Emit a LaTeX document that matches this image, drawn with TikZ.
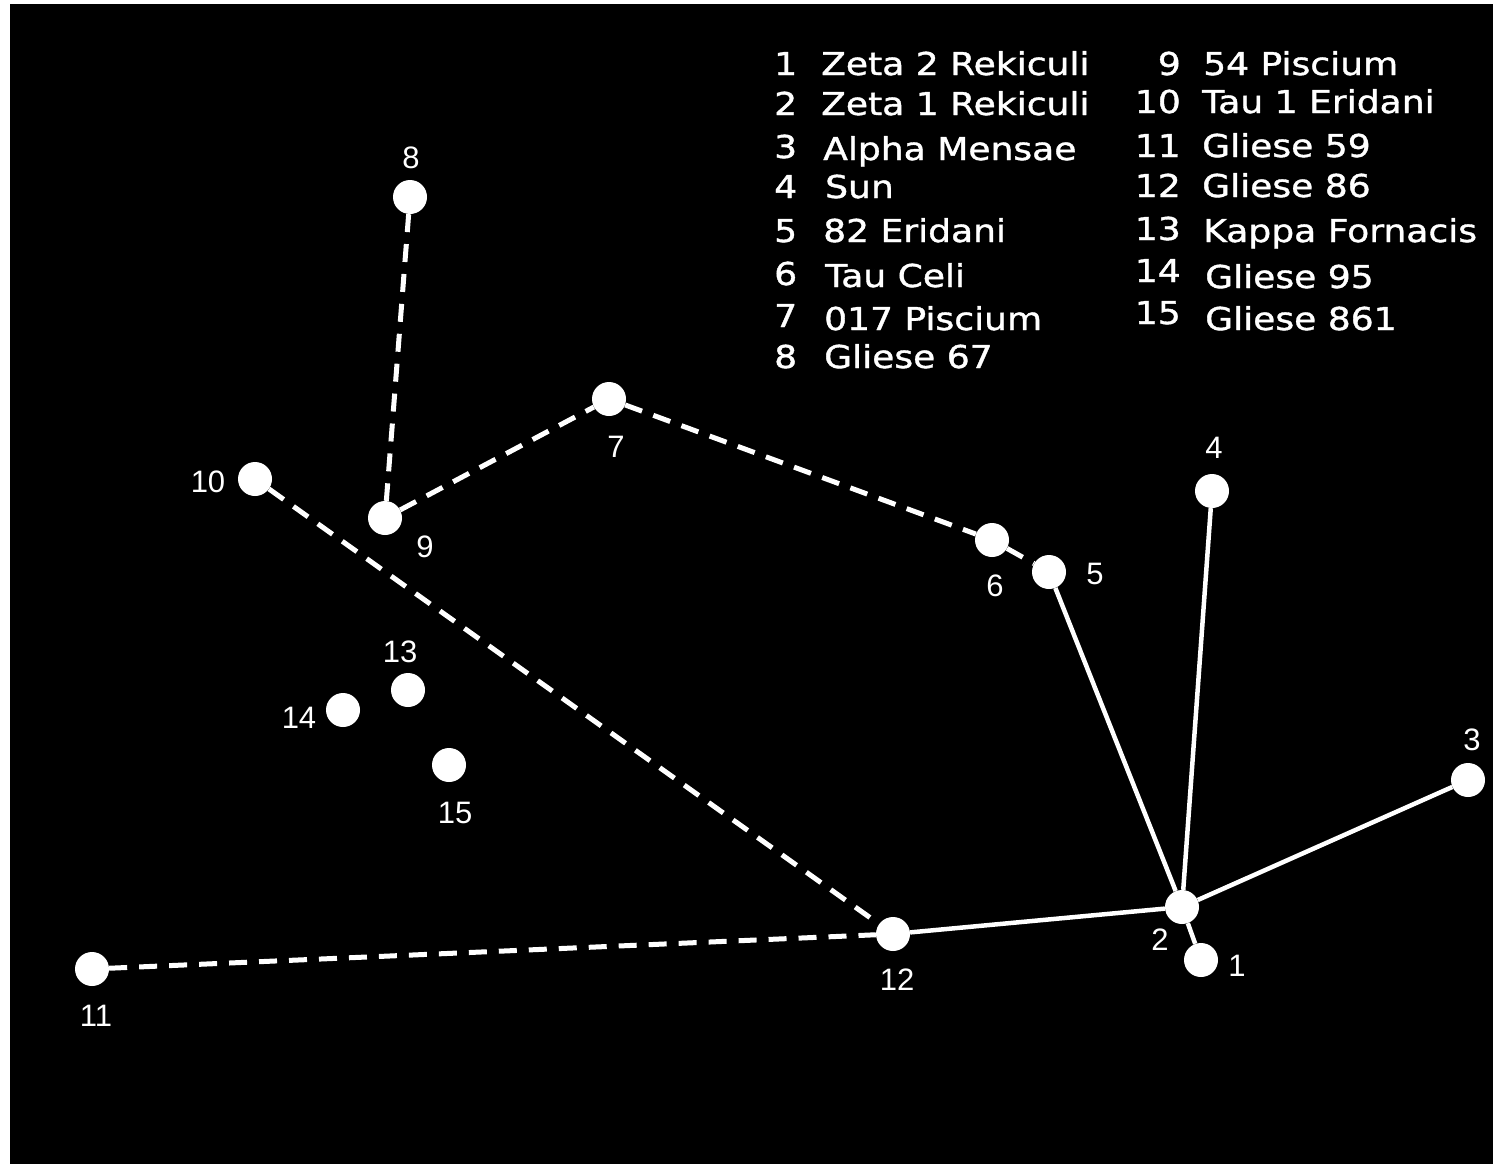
\documentclass[tikz,border=0pt]{standalone}
\usepackage{fontspec}
\setmainfont{Liberation Sans}
\newfontfamily\legendfont{DejaVu Sans}[FakeStretch=1.145,FakeBold=1.2]
\begin{document}
\begin{tikzpicture}[x=1pt,y=-1pt,
  starnode/.style={circle, fill=white, minimum size=34pt, inner sep=0pt},
  lab/.style={text=white, font=\fontsize{31}{31}\selectfont, inner sep=0pt},
  leg/.style={text=white, font=\legendfont\fontsize{31.5}{31.5}\selectfont, inner sep=0pt, anchor=base west},
  legnum/.style={text=white, font=\legendfont\fontsize{31.5}{31.5}\selectfont, inner sep=0pt, anchor=base east},
  dashline/.style={draw=white, line width=5pt, dash pattern=on 18pt off 12pt},
  solidline/.style={draw=white, line width=4.5pt}]
\useasboundingbox (0,0) rectangle (1493,1164);
\fill[white] (0,0) rectangle (1493,1164);
\fill[black] (10,4) rectangle (1493,1164);

% stars
\node[starnode] (s1) at (1201,960) {};
\node[starnode] (s2) at (1182,907) {};
\node[starnode] (s3) at (1468,780) {};
\node[starnode] (s4) at (1212,491) {};
\node[starnode] (s5) at (1049,572) {};
\node[starnode] (s6) at (992,540) {};
\node[starnode] (s7) at (609,399) {};
\node[starnode] (s8) at (410,197) {};
\node[starnode] (s9) at (385,518) {};
\node[starnode] (s10) at (255,479) {};
\node[starnode] (s11) at (92,969) {};
\node[starnode] (s12) at (893,934) {};
\node[starnode] (s13) at (408,690) {};
\node[starnode] (s14) at (343,710) {};
\node[starnode] (s15) at (449,765) {};

% connectors
\draw[dashline] (s8) -- (s9);
\draw[dashline] (s9) -- (s7);
\draw[dashline] (s7) -- (s6);
\draw[dashline] (s6) -- (s5);
\draw[dashline] (s10) -- (s12);
\draw[dashline] (s11) -- (s12);
\draw[solidline] (s12) -- (s2);
\draw[solidline] (s5) -- (s2);
\draw[solidline] (s4) -- (s2);
\draw[solidline] (s3) -- (s2);
\draw[solidline] (s2) -- (s1);

% star labels
\node[lab] (l1) at (1237,966) {1};
\node[lab] (l2) at (1160,940) {2};
\node[lab] (l3) at (1472,740) {3};
\node[lab] (l4) at (1214,448) {4};
\node[lab] (l5) at (1095,574) {5};
\node[lab] (l6) at (995,586) {6};
\node[lab] (l7) at (616,447) {7};
\node[lab] (l8) at (411,158) {8};
\node[lab] (l9) at (425,547) {9};
\node[lab] (l10) at (208,482) {10};
\node[lab] (l11) at (96,1016) {11};
\node[lab] (l12) at (897,980) {12};
\node[lab] (l13) at (400,652) {13};
\node[lab] (l14) at (299,718) {14};
\node[lab] (l15) at (455,813) {15};

% legend, left column
\node[leg] (n1) at (774,75) {1};   \node[leg] (t1) at (821,75) {Zeta 2 Rekiculi};
\node[leg] (n2) at (774,115) {2};  \node[leg] (t2) at (821,115) {Zeta 1 Rekiculi};
\node[leg] (n3) at (774,158) {3};  \node[leg] (t3) at (823,160) {Alpha Mensae};
\node[leg] (n4) at (774,198) {4};  \node[leg] (t4) at (825,198) {Sun};
\node[leg] (n5) at (774,242) {5};  \node[leg] (t5) at (823,242) {82 Eridani};
\node[leg] (n6) at (774,285) {6};  \node[leg] (t6) at (825,287) {Tau Celi};
\node[leg] (n7) at (774,327) {7};  \node[leg] (t7) at (824,330) {017 Piscium};
\node[leg] (n8) at (774,368) {8};  \node[leg] (t8) at (824,368) {Gliese 67};

% legend, right column
\node[legnum] (n9) at (1181,75) {9};    \node[leg] (t9) at (1203,75) {54 Piscium};
\node[legnum] (n10) at (1181,113) {10}; \node[leg] (t10) at (1202,113) {Tau 1 Eridani};
\node[legnum] (n11) at (1181,157) {11}; \node[leg] (t11) at (1202,157) {Gliese 59};
\node[legnum] (n12) at (1181,197) {12}; \node[leg] (t12) at (1202,197) {Gliese 86};
\node[legnum] (n13) at (1181,240) {13}; \node[leg] (t13) at (1203,242) {Kappa Fornacis};
\node[legnum] (n14) at (1181,282) {14}; \node[leg] (t14) at (1205,288) {Gliese 95};
\node[legnum] (n15) at (1181,324) {15}; \node[leg] (t15) at (1205,330) {Gliese 861};
\end{tikzpicture}
\end{document}
